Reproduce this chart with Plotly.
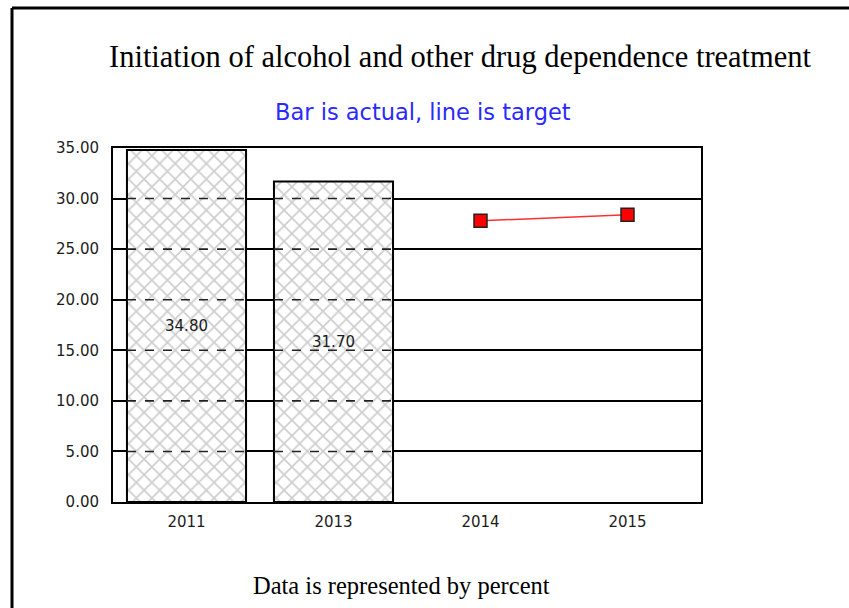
import plotly.graph_objects as go

# Chart data
years = ["2011", "2013", "2014", "2015"]
actual = [34.80, 31.70, None, None]
target = [None, None, 27.8, 28.4]
y_ticks = [0, 5, 10, 15, 20, 25, 30, 35]

W, H = 849, 608
L, R, T, B = 113, 148, 148, 106
PW, PH = W - L - R, H - T - B


def px_x(p):
    return (p - L) / PW


def px_y(p):
    return (H - B - p) / PH


BAR_W = 0.81
SANS = "DejaVu Sans, Arial"
SERIF = "Liberation Serif, Times New Roman"
TXT = "#1c1c1c"

fig = go.Figure()

fig.add_trace(go.Bar(
    x=years, y=actual,
    width=BAR_W,
    marker=dict(
        color="white",
        line=dict(color="black", width=2),
        pattern=dict(shape="x", fgcolor="#9c9c9c", bgcolor="white",
                     size=11, solidity=0.28),
    ),
    text=[f"{v:.2f}" if v is not None else "" for v in actual],
    textposition="inside",
    insidetextanchor="middle",
    textangle=0,
    textfont=dict(family=SANS, size=15, color=TXT),
    showlegend=False,
    hoverinfo="skip",
))

fig.add_trace(go.Scatter(
    x=years, y=target,
    mode="lines+markers",
    line=dict(color="#ff3030", width=1.5),
    marker=dict(symbol="square", size=13, color="#ff0000",
                line=dict(color="#222222", width=1.5)),
    connectgaps=False,
    showlegend=False,
    hoverinfo="skip",
))

shapes = []
# grid lines show through the hatched bars as dashed strokes
for i, v in enumerate(actual):
    if v is None:
        continue
    for g in y_ticks:
        if 0 < g < v:
            shapes.append(dict(
                type="line", xref="x", yref="y",
                x0=i - BAR_W / 2, x1=i + BAR_W / 2, y0=g, y1=g,
                line=dict(color="#222222", width=1.6, dash="dash"),
                layer="above",
            ))

# outer frame (left and top edges)
shapes.append(dict(type="line", xref="paper", yref="paper",
                   x0=px_x(12), x1=px_x(12), y0=px_y(8), y1=px_y(H + 5),
                   line=dict(color="black", width=3)))
shapes.append(dict(type="line", xref="paper", yref="paper",
                   x0=px_x(12), x1=px_x(W + 5), y0=px_y(8), y1=px_y(8),
                   line=dict(color="black", width=3)))

annotations = [
    dict(text="Initiation of alcohol and other drug dependence treatment",
         xref="paper", yref="paper", x=px_x(460), y=px_y(57),
         xanchor="center", yanchor="middle", showarrow=False,
         font=dict(family=SERIF, size=30.5, color="black")),
    dict(text="Bar is actual, line is target",
         xref="paper", yref="paper", x=px_x(423), y=px_y(112),
         xanchor="center", yanchor="middle", showarrow=False,
         font=dict(family=SANS, size=22.5, color="#2a2aff")),
    dict(text="Data is represented by percent",
         xref="paper", yref="paper", x=px_x(401), y=px_y(585),
         xanchor="center", yanchor="middle", showarrow=False,
         font=dict(family=SERIF, size=24.5, color="black")),
]

fig.update_layout(
    width=W, height=H,
    margin=dict(l=L, r=R, t=T, b=B, pad=0),
    paper_bgcolor="white", plot_bgcolor="white",
    bargap=0.19,
    shapes=shapes,
    annotations=annotations,
    xaxis=dict(
        type="category", categoryorder="array", categoryarray=years,
        range=[-0.5, 3.5],
        showgrid=False, showline=True, linecolor="black", linewidth=2,
        mirror=True, ticks="outside", ticklen=5, tickcolor="rgba(0,0,0,0)",
        tickfont=dict(family=SANS, size=15, color=TXT),
        zeroline=False,
    ),
    yaxis=dict(
        range=[0, 35], tickvals=y_ticks, tickformat=".2f",
        showgrid=True, gridcolor="black", gridwidth=1.6,
        showline=True, linecolor="black", linewidth=2, mirror=True,
        ticks="outside", ticklen=9, tickcolor="rgba(0,0,0,0)",
        tickfont=dict(family=SANS, size=15, color=TXT),
        zeroline=False,
    ),
)

fig.write_html("out.html")
